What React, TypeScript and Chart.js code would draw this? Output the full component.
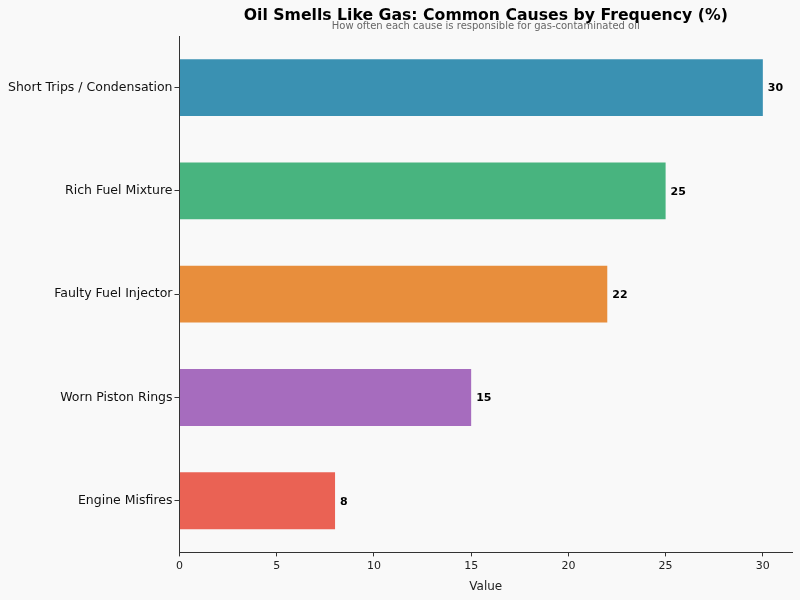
import { useEffect, useRef } from "react";
import { Chart, registerables } from "chart.js";

Chart.register(...registerables);

const causes = [
  "Short Trips / Condensation",
  "Rich Fuel Mixture",
  "Faulty Fuel Injector",
  "Worn Piston Rings",
  "Engine Misfires",
];
const frequency = [30, 25, 22, 15, 8];
const barColors = ["#3a91b2", "#48b47f", "#e88e3c", "#a66cbe", "#ea6254"];
const xTicks = [0, 5, 10, 15, 20, 25, 30];

const FONT = "'DejaVu Sans', sans-serif";

// title, subtitle and the numbers at the bar ends
const labelsPlugin = {
  id: "labels",
  afterDraw(chart: Chart) {
    const { ctx, chartArea } = chart;
    const cx = (chartArea.left + chartArea.right) / 2;
    ctx.save();
    ctx.textAlign = "center";
    ctx.textBaseline = "middle";
    ctx.fillStyle = "#000";
    ctx.font = `bold 15.7px ${FONT}`;
    ctx.fillText("Oil Smells Like Gas: Common Causes by Frequency (%)", cx, 16);
    ctx.fillStyle = "#666";
    ctx.font = `10px ${FONT}`;
    ctx.fillText("How often each cause is responsible for gas-contaminated oil", cx, 26);

    const meta = chart.getDatasetMeta(0);
    ctx.textAlign = "left";
    ctx.fillStyle = "#000";
    ctx.font = `bold 11px ${FONT}`;
    meta.data.forEach((bar: any, i: number) => {
      ctx.fillText(String(frequency[i]), bar.x + 5, bar.y + 1);
    });
    ctx.restore();
  },
};

export default function App() {
  const chartRef = useRef<HTMLCanvasElement | null>(null);

  useEffect(() => {
    if (!chartRef.current) return;
    const chart = new Chart(chartRef.current, {
      type: "bar",
      data: {
        labels: causes,
        datasets: [
          {
            label: "Frequency",
            data: frequency,
            backgroundColor: barColors,
            barPercentage: 0.55,
            categoryPercentage: 1,
          },
        ],
      },
      options: {
        indexAxis: "y",
        animation: false,
        responsive: true,
        maintainAspectRatio: false,
        layout: { padding: { top: 36, right: 8, left: 6, bottom: 6 } },
        plugins: {
          legend: { display: false },
          tooltip: { enabled: false },
        },
        scales: {
          x: {
            min: 0,
            max: 31.5,
            afterBuildTicks: (scale: any) => {
              scale.ticks = xTicks.map((v) => ({ value: v }));
            },
            grid: {
              drawOnChartArea: false,
              tickLength: 4,
              tickColor: "#333",
            },
            border: { color: "#333", width: 1 },
            ticks: { color: "#222", font: { family: FONT, size: 11 }, padding: 3 },
            title: {
              display: true,
              text: "Value",
              color: "#222",
              font: { family: FONT, size: 12 },
              padding: { top: 4, bottom: 0 },
            },
          },
          y: {
            offset: true,
            grid: {
              drawOnChartArea: false,
              tickLength: 5,
              tickColor: "#333",
              offset: false,
            },
            border: { color: "#333", width: 1 },
            ticks: { color: "#111", font: { family: FONT, size: 12.5 }, padding: 2 },
          },
        },
      },
      plugins: [labelsPlugin],
    });
    return () => chart.destroy();
  }, []);

  return (
    <div
      style={{
        position: "fixed",
        left: 0,
        top: 0,
        width: 800,
        height: 600,
        background: "#f9f9f9",
      }}
    >
      <canvas ref={chartRef} />
    </div>
  );
}
